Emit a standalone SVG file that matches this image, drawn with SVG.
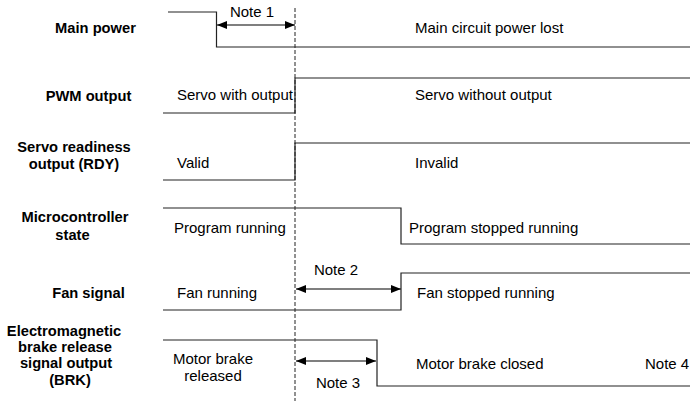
<svg xmlns="http://www.w3.org/2000/svg" width="690" height="401" viewBox="0 0 690 401">
<style>
text{font-family:"Liberation Sans",Arial,sans-serif;font-size:15px;fill:#000}
.lbl{font-weight:bold;text-anchor:middle;font-size:14.7px}
.mid{text-anchor:middle}
.wave{fill:none;stroke:#222;stroke-width:1.2}
.dash{fill:none;stroke:#222;stroke-width:1;stroke-dasharray:4,2}
.arr{fill:none;stroke:#000;stroke-width:1.2;marker-start:url(#ah);marker-end:url(#ah)}
</style>
<defs>
<marker id="ah" markerUnits="userSpaceOnUse" markerWidth="10" markerHeight="8" refX="10" refY="4" orient="auto-start-reverse">
<path d="M0,0 L10,4 L0,8 z" fill="#000"/>
</marker>
</defs>
<g id="labels">
<text class="lbl" x="95.5" y="33">Main power</text>
<text class="lbl" x="88.5" y="101">PWM output</text>
<text class="lbl" x="74" y="152">Servo readiness</text>
<text class="lbl" x="74" y="169">output (RDY)</text>
<text class="lbl" x="75" y="222">Microcontroller</text>
<text class="lbl" x="72.5" y="240">state</text>
<text class="lbl" x="88.5" y="298">Fan signal</text>
<text class="lbl" x="64" y="336">Electromagnetic</text>
<text class="lbl" x="65" y="352">brake release</text>
<text class="lbl" x="66" y="368">signal output</text>
<text class="lbl" x="70" y="385">(BRK)</text>
</g>
<g id="connectors">
<path class="dash" d="M295,8 V401"/>
<path class="arr" d="M217,25 H295"/>
<path class="arr" d="M296,289 H401"/>
<path class="arr" d="M296,361 H376"/>
</g>
<g id="main-power">
<path class="wave" d="M168,12 H216.5 V47 H690"/>
<text class="mid" x="252" y="17">Note 1</text>
<text x="415" y="33">Main circuit power lost</text>
</g>
<g id="pwm-output">
<path class="wave" d="M163,113 H295 V78 H690"/>
<text x="177" y="100">Servo with output</text>
<text x="415" y="100">Servo without output</text>
</g>
<g id="rdy">
<path class="wave" d="M163,180 H295 V143 H690"/>
<text x="177" y="168">Valid</text>
<text x="415" y="168">Invalid</text>
</g>
<g id="mcu-state">
<path class="wave" d="M163,208 H401 V244 H690"/>
<text x="174" y="233">Program running</text>
<text x="409" y="233">Program stopped running</text>
</g>
<g id="fan-signal">
<path class="wave" d="M163,310 H401 V273 H690"/>
<text class="mid" x="336" y="275">Note 2</text>
<text x="177" y="298">Fan running</text>
<text x="417" y="298">Fan stopped running</text>
</g>
<g id="brk">
<path class="wave" d="M163,340 H377 V386 H690"/>
<text class="mid" x="213" y="364">Motor brake</text>
<text class="mid" x="213" y="381">released</text>
<text class="mid" x="338" y="388">Note 3</text>
<text x="416" y="369">Motor brake closed</text>
<text x="645" y="369">Note 4</text>
</g>
</svg>
